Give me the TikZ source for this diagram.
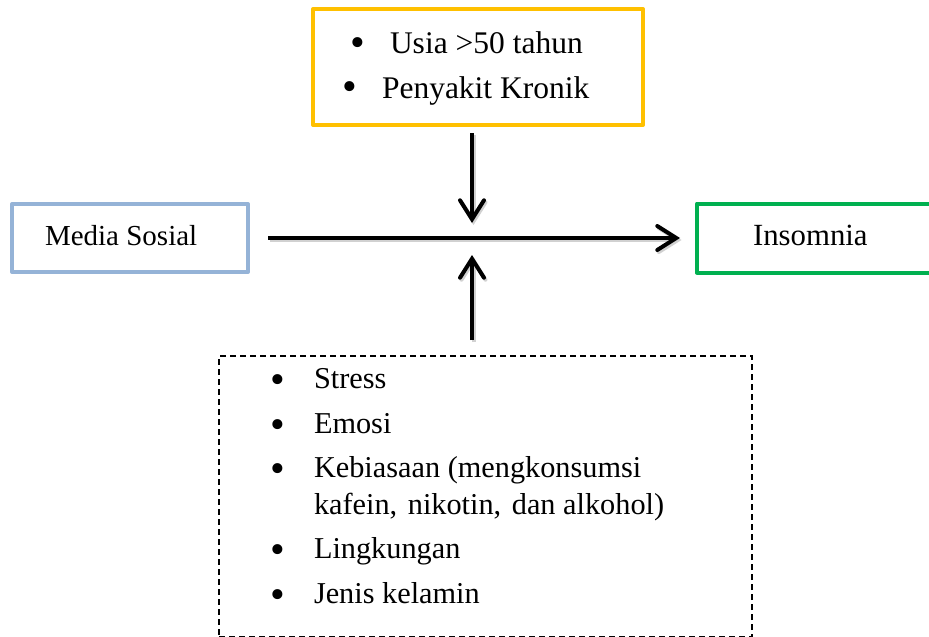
\documentclass[tikz,border=0pt]{standalone}
\usepackage{fontspec}
\setmainfont{Liberation Serif}
\usetikzlibrary{arrows.meta}
\definecolor{boxyellow}{HTML}{FFC000}
\definecolor{boxblue}{HTML}{95B3D7}
\definecolor{boxgreen}{HTML}{00B050}
\begin{document}
\begin{tikzpicture}[x=1pt,y=-1pt,
  every node/.style={inner sep=0pt,outer sep=0pt},
  frame/.style={draw,line width=4pt,rectangle,line join=round},
  txt/.style={anchor=base west,font=\fontsize{30.8}{37}\selectfont},
  toptxt/.style={txt,font=\fontsize{31.5}{37}\selectfont},
  bottxt/.style={txt,font=\fontsize{30.3}{37}\selectfont},
  blt/.style={anchor=base,font=\fontsize{42}{42}\selectfont},
  arr/.style={line width=4pt,-{Straight Barb[length=19pt,width=24pt,line width=4pt,line cap=round]},
    preaction={draw=black!18,line width=4pt,transform canvas={xshift=1.5pt,yshift=-2pt}}}]
\useasboundingbox (0,0) rectangle (929,637);
\clip (0,0) rectangle (929,637);
% boxes
\node[frame,draw=boxyellow,minimum width=330,minimum height=116] (risk) at (478,67) {};
\node[frame,draw=boxblue,minimum width=236,minimum height=68] (media) at (130,238) {};
\node[frame,draw=boxgreen,minimum width=263,minimum height=69] (ins) at (828.5,238) {};
\node[rectangle,draw,line width=2pt,dash pattern=on 6pt off 4pt,minimum width=533,minimum height=281] (conf) at (485.5,496.5) {};
% texts
\node[blt] (b1) at (358,56) {•};
\node[toptxt] (t1) at (390,53) {Usia >50 tahun};
\node[blt] (b2) at (350,100.5) {•};
\node[toptxt] (t2) at (382,98) {Penyakit Kronik};
\node[txt,font=\fontsize{29}{37}\selectfont] (tm) at (45,245) {Media Sosial};
\node[txt] (ti) at (753,245) {Insomnia};
\node[blt] (c1) at (278,393.5) {•};
\node[bottxt] (s1) at (314,388) {Stress};
\node[blt] (c2) at (278,438.5) {•};
\node[bottxt] (s2) at (314,433) {Emosi};
\node[blt] (c3) at (278,482.5) {•};
\node[bottxt] (s3) at (314,477) {Kebiasaan (mengkonsumsi};
\node[bottxt] (s3b) at (314,514) {kafein,\hspace{3pt} nikotin,\hspace{3pt} dan alkohol)};
\node[blt] (c4) at (278,563.5) {•};
\node[bottxt] (s4) at (314,558) {Lingkungan};
\node[blt] (c5) at (278,608.5) {•};
\node[bottxt] (s5) at (314,603) {Jenis kelamin};
% connectors
\coordinate (jtop) at (472,223);
\coordinate (jbot) at (472,255);
\draw[arr,shorten <=20pt,shorten >=17pt] (media.east) -- (ins.west);
\draw[arr,shorten <=8pt] (risk.south -| jtop) -- (jtop);
\draw[arr,shorten <=16pt] (conf.north -| jbot) -- (jbot);
\end{tikzpicture}
\end{document}
